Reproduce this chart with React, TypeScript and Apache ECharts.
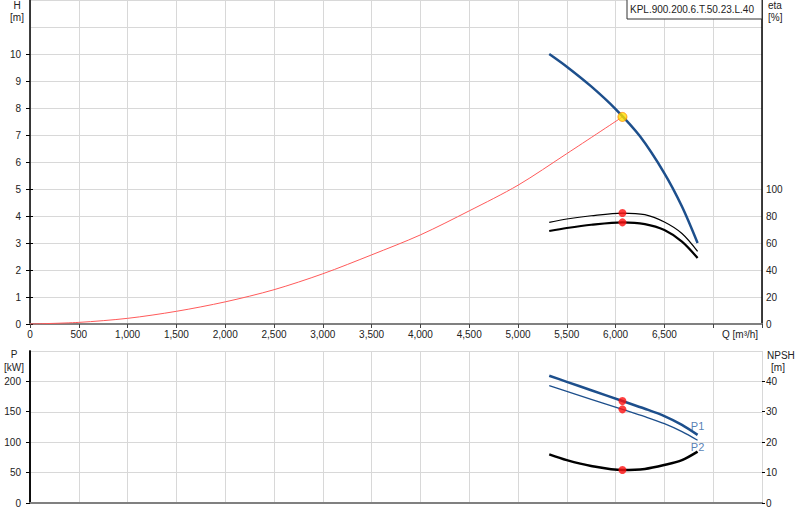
import React, { useEffect, useRef } from 'react';
import * as echarts from 'echarts';

// pump curve KPL.900.200.6.T.50.23.L.40

const pumpName = 'KPL.900.200.6.T.50.23.L.40';

// Q [m³/h] axis
const qMin = 0;
const qMax = 7500;
const qStep = 500;

// H-Q curve
const qH = [5320, 5500, 5750, 6000, 6250, 6500, 6680, 6840];
const hValues = [10.0, 9.53, 8.8, 7.96, 6.95, 5.58, 4.35, 3.0];

// system curve
const qSys = [0, 500, 1000, 1500, 2000, 2500, 3000, 3500, 4000, 4500, 5000, 5500, 6070];
const hSys = [0, 0.06, 0.21, 0.47, 0.82, 1.27, 1.86, 2.56, 3.3, 4.19, 5.14, 6.31, 7.67];

// efficiency
const qEta = [5320, 5500, 5750, 6070, 6300, 6500, 6680, 6840];
const etaUpper = [75.3, 77.8, 80.2, 82.2, 81.0, 75.5, 67.0, 53.8];
const etaLower = [68.9, 71.1, 73.5, 75.3, 74.0, 69.6, 61.0, 48.9];

// power & NPSH
const qP = [5320, 5500, 5750, 6070, 6300, 6500, 6680, 6840];
const p1 = [209.3, 199.3, 185.4, 167.7, 155.0, 143.0, 128.5, 112.0];
const p2 = [193.0, 183.6, 170.6, 154.0, 142.0, 130.6, 117.5, 103.3];
const npsh = [16.0, 14.1, 12.2, 10.85, 11.2, 12.5, 14.1, 16.9];

// duty point
const dutyQ = 6070;
const dutyH = 7.67;
const dutyEta = [82.2, 75.3];
const dutyP = [167.7, 154.0];
const dutyNpsh = 10.85;

const FONT = 'Liberation Sans, Arial, sans-serif';
const TXT = '#222';
const GRID = '#d8d8d8';
const SMOOTH = 0.3;

const pairs = (xs: number[], ys: number[]) => xs.map((x, i) => [x, ys[i]]);

const hiddenX = (gridIndex: number) => ({
  type: 'value' as const,
  gridIndex,
  min: qMin,
  max: qMax,
  show: false
});

const labelStyle = { color: TXT, fontSize: 10, fontFamily: FONT };

export default function App() {
  const chartRef = useRef<HTMLDivElement>(null);

  useEffect(() => {
    document.body.style.margin = '0';
    if (!chartRef.current) return;
    const chart = echarts.init(chartRef.current, undefined, { renderer: 'svg' });

    const option: echarts.EChartsOption = {
      animation: false,
      textStyle: { fontFamily: FONT },
      grid: [
        { left: 30, right: 38, top: 0, height: 324 },
        { left: 30, right: 38, top: 54, height: 270 },
        { left: 30, right: 38, top: 189, height: 135 },
        { left: 30, right: 38, top: 351, height: 152 },
        { left: 30, right: 38, top: 381, height: 122 }
      ],
      xAxis: [
        {
          type: 'value',
          gridIndex: 0,
          min: qMin,
          max: qMax,
          interval: qStep,
          axisLine: { lineStyle: { color: '#808080', width: 2 } },
          axisTick: { length: 4, lineStyle: { color: '#444' } },
          axisLabel: {
            ...labelStyle,
            margin: 5,
            formatter: (v: number) => (v >= 7000 ? '' : v.toLocaleString('en-US'))
          },
          splitLine: { lineStyle: { color: GRID } }
        },
        hiddenX(1),
        hiddenX(2),
        {
          type: 'value',
          gridIndex: 3,
          min: qMin,
          max: qMax,
          interval: qStep,
          axisLine: { lineStyle: { color: '#000', width: 1.5 } },
          axisTick: { show: false },
          axisLabel: { show: false },
          splitLine: { lineStyle: { color: GRID } }
        },
        hiddenX(4),
        {
          type: 'value',
          gridIndex: 3,
          position: 'top',
          min: qMin,
          max: qMax,
          axisLine: { lineStyle: { color: '#808080', width: 2 } },
          axisTick: { show: false },
          axisLabel: { show: false },
          splitLine: { show: false }
        }
      ],
      yAxis: [
        {
          type: 'value',
          gridIndex: 0,
          min: 0,
          max: 12,
          interval: 1,
          axisLine: { show: true, lineStyle: { color: '#000', width: 1.5 } },
          axisTick: { show: false },
          axisLabel: { show: false },
          splitLine: { lineStyle: { color: GRID } }
        },
        {
          type: 'value',
          gridIndex: 0,
          position: 'right',
          min: 0,
          max: 12,
          interval: 1,
          axisLine: { show: true, lineStyle: { color: '#000', width: 1.5 } },
          axisTick: { show: false },
          axisLabel: { show: false },
          splitLine: { show: false }
        },
        {
          type: 'value',
          gridIndex: 1,
          min: 0,
          max: 10,
          interval: 1,
          axisLine: { show: false },
          axisTick: { show: true, length: 4, lineStyle: { color: '#000' } },
          axisLabel: { ...labelStyle, margin: 9 },
          splitLine: { show: false }
        },
        {
          type: 'value',
          gridIndex: 2,
          position: 'right',
          min: 0,
          max: 100,
          interval: 20,
          axisLine: { show: false },
          axisTick: { show: true, length: 3, lineStyle: { color: '#000' } },
          axisLabel: { ...labelStyle, margin: 4 },
          splitLine: { show: false }
        },
        {
          type: 'value',
          gridIndex: 3,
          min: 0,
          max: 250,
          interval: 50,
          axisLine: { show: true, lineStyle: { color: '#000', width: 1.5 } },
          axisTick: { show: false },
          axisLabel: { show: false },
          splitLine: { lineStyle: { color: GRID } }
        },
        {
          type: 'value',
          gridIndex: 3,
          position: 'right',
          min: 0,
          max: 50,
          interval: 10,
          axisLine: { show: true, lineStyle: { color: '#000', width: 1.5 } },
          axisTick: { show: false },
          axisLabel: { show: false },
          splitLine: { show: false }
        },
        {
          type: 'value',
          gridIndex: 4,
          min: 0,
          max: 200,
          interval: 50,
          axisLine: { show: false },
          axisTick: { show: true, length: 4, lineStyle: { color: '#000' } },
          axisLabel: { ...labelStyle, margin: 9 },
          splitLine: { show: false }
        },
        {
          type: 'value',
          gridIndex: 4,
          position: 'right',
          min: 0,
          max: 40,
          interval: 10,
          axisLine: { show: false },
          axisTick: { show: true, length: 3, lineStyle: { color: '#000' } },
          axisLabel: { ...labelStyle, margin: 4 },
          splitLine: { show: false }
        }
      ],
      series: [
        {
          name: 'system',
          type: 'line',
          xAxisIndex: 0,
          yAxisIndex: 0,
          data: pairs(qSys, hSys),
          smooth: SMOOTH,
          showSymbol: false,
          lineStyle: { color: '#ff5a5a', width: 1 }
        },
        {
          name: 'H',
          type: 'line',
          xAxisIndex: 0,
          yAxisIndex: 0,
          data: pairs(qH, hValues),
          smooth: SMOOTH,
          showSymbol: false,
          clip: false,
          lineStyle: { color: '#1d4f8c', width: 2.5 }
        },
        {
          name: 'duty',
          type: 'scatter',
          xAxisIndex: 0,
          yAxisIndex: 0,
          data: [[dutyQ, dutyH]],
          symbolSize: 9,
          itemStyle: { color: '#ffdd00', borderColor: '#ff8a00', borderWidth: 1 },
          z: 5
        },
        {
          name: 'eta1',
          type: 'line',
          xAxisIndex: 2,
          yAxisIndex: 3,
          data: pairs(qEta, etaUpper),
          smooth: SMOOTH,
          showSymbol: false,
          clip: false,
          lineStyle: { color: '#000', width: 1.2 }
        },
        {
          name: 'eta2',
          type: 'line',
          xAxisIndex: 2,
          yAxisIndex: 3,
          data: pairs(qEta, etaLower),
          smooth: SMOOTH,
          showSymbol: false,
          clip: false,
          lineStyle: { color: '#000', width: 2.2 }
        },
        {
          name: 'etaDots',
          type: 'scatter',
          xAxisIndex: 2,
          yAxisIndex: 3,
          data: dutyEta.map(v => [dutyQ, v]),
          symbolSize: 8,
          itemStyle: { color: '#ff1010' },
          z: 5
        },
        {
          name: 'P1',
          type: 'line',
          xAxisIndex: 3,
          yAxisIndex: 4,
          data: pairs(qP, p1),
          smooth: SMOOTH,
          showSymbol: false,
          lineStyle: { color: '#1d4f8c', width: 2.5 }
        },
        {
          name: 'P2',
          type: 'line',
          xAxisIndex: 3,
          yAxisIndex: 4,
          data: pairs(qP, p2),
          smooth: SMOOTH,
          showSymbol: false,
          lineStyle: { color: '#1d4f8c', width: 1.3 }
        },
        {
          name: 'NPSH',
          type: 'line',
          xAxisIndex: 3,
          yAxisIndex: 5,
          data: pairs(qP, npsh),
          smooth: SMOOTH,
          showSymbol: false,
          lineStyle: { color: '#000', width: 2.5 }
        },
        {
          name: 'pDots',
          type: 'scatter',
          xAxisIndex: 3,
          yAxisIndex: 4,
          data: dutyP.map(v => [dutyQ, v]),
          symbolSize: 8,
          itemStyle: { color: '#ff1010' },
          z: 5
        },
        {
          name: 'npshDot',
          type: 'scatter',
          xAxisIndex: 3,
          yAxisIndex: 5,
          data: [[dutyQ, dutyNpsh]],
          symbolSize: 8,
          itemStyle: { color: '#ff1010' },
          z: 5
        },
        {
          name: 'pLabels',
          type: 'scatter',
          xAxisIndex: 3,
          yAxisIndex: 4,
          symbolSize: 1,
          itemStyle: { color: 'transparent' },
          data: [
            {
              value: [qP[qP.length - 1], p1[p1.length - 1]],
              label: { show: true, formatter: 'P1', position: 'top', distance: 3 }
            },
            {
              value: [qP[qP.length - 1], p2[p2.length - 1]],
              label: { show: true, formatter: 'P2', position: 'bottom', distance: 1 }
            }
          ],
          label: { color: '#2a5d9f', fontSize: 11, fontFamily: FONT },
          silent: true
        }
      ],
      graphic: [
        {
          type: 'rect',
          shape: { x: 627, y: -1, width: 135, height: 20 },
          style: { fill: '#fff', stroke: '#333', lineWidth: 1 },
          z: 10
        },
        {
          type: 'text',
          x: 630,
          y: 9,
          style: { text: pumpName, fill: TXT, fontSize: 10, fontFamily: FONT, verticalAlign: 'middle' },
          z: 11
        },
        { type: 'text', x: 17, y: 5, style: { text: 'H', fill: TXT, fontSize: 10, fontFamily: FONT, align: 'center', verticalAlign: 'middle' } },
        { type: 'text', x: 17, y: 17, style: { text: '[m]', fill: TXT, fontSize: 10, fontFamily: FONT, align: 'center', verticalAlign: 'middle' } },
        { type: 'text', x: 768, y: 5, style: { text: 'eta', fill: TXT, fontSize: 10, fontFamily: FONT, verticalAlign: 'middle' } },
        { type: 'text', x: 768, y: 17, style: { text: '[%]', fill: TXT, fontSize: 10, fontFamily: FONT, verticalAlign: 'middle' } },
        { type: 'text', x: 722, y: 334, style: { text: 'Q [m³/h]', fill: TXT, fontSize: 10, fontFamily: FONT, verticalAlign: 'middle' } },
        { type: 'text', x: 14, y: 354, style: { text: 'P', fill: TXT, fontSize: 10, fontFamily: FONT, align: 'center', verticalAlign: 'middle' } },
        { type: 'text', x: 14, y: 367, style: { text: '[kW]', fill: TXT, fontSize: 10, fontFamily: FONT, align: 'center', verticalAlign: 'middle' } },
        { type: 'text', x: 767, y: 355, style: { text: 'NPSH', fill: TXT, fontSize: 10, fontFamily: FONT, verticalAlign: 'middle' } },
        { type: 'text', x: 778, y: 367, style: { text: '[m]', fill: TXT, fontSize: 10, fontFamily: FONT, align: 'center', verticalAlign: 'middle' } }
      ]
    };

    chart.setOption(option);

    return () => {
      chart.dispose();
    };
  }, []);

  return <div ref={chartRef} style={{ width: 800, height: 520 }} />;
}
